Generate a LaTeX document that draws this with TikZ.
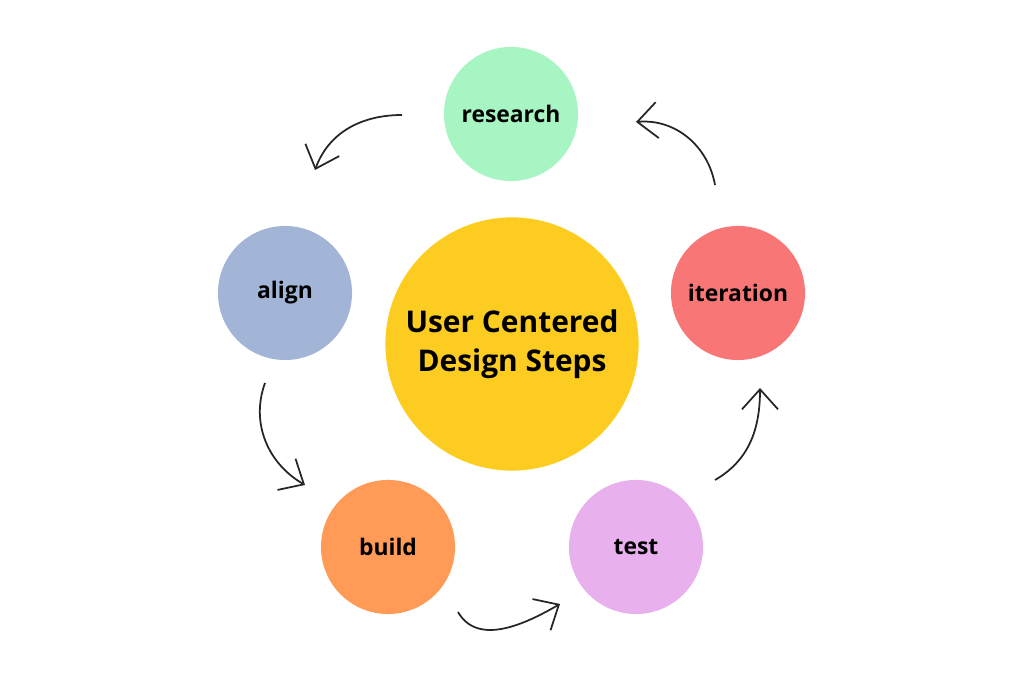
\documentclass[tikz,border=0pt]{standalone}
\usepackage{fontspec}
\setmainfont{Open Sans}
\usetikzlibrary{arrows.meta}
\definecolor{cResearch}{HTML}{A6F5C2}
\definecolor{cAlign}{HTML}{A3B5D6}
\definecolor{cIter}{HTML}{F87676}
\definecolor{cBuild}{HTML}{FF9B57}
\definecolor{cTest}{HTML}{E8B1EE}
\definecolor{cCenter}{HTML}{FCCD20}
\tikzset{
  phase/.style={circle, minimum size=1.34cm, inner sep=0pt,
    font=\fontsize{6.5}{8}\selectfont\bfseries},
  loop arrow/.style={-{Straight Barb[length=2mm,width=3.6mm]}, line width=0.5pt, black!85}
}
\begin{document}
\begin{tikzpicture}[x=0.01cm,y=-0.01cm]
        \useasboundingbox (0,0) rectangle (1024,683);
        \node [circle, fill=cCenter, minimum size=2.48cm, align=center,
          font=\fontsize{8.5}{11}\selectfont\bfseries] (centre) at (512,344)
          {User Centered\\Design Steps};

        \node [phase, fill=cResearch] (research) at (511,114) {research};
        \node [phase, fill=cAlign] (align) at (285,293) {align};
        \node [phase, fill=cIter] (iteration) at (738,293) {iteration};
        \node [phase, fill=cBuild] (build) at (388,547) {build};
        \node [phase, fill=cTest] (test) at (636,547) {test};

        % free ends of the hand drawn arrows
        \coordinate (ra) at (402,115);  \coordinate (rb) at (315,170);
        \coordinate (aa) at (265,383);  \coordinate (ab) at (305,485);
        \coordinate (ba) at (458,612);  \coordinate (bb) at (560,604);
        \coordinate (ta) at (715,480);  \coordinate (tb) at (760,388);
        \coordinate (ia) at (715,185);  \coordinate (ib) at (636,122);

        \draw [loop arrow] (ra) to[out=180, in=70] (rb);
        \draw [loop arrow] (aa) to[out=-110, in=150] (ab);
        \draw [loop arrow] (ba) to[out=-60, in=-150] (bb);
        \draw [loop arrow] (ta) to[out=30, in=-90] (tb);
        \draw [loop arrow] (ia) to[out=100, in=5] (ib);
    \end{tikzpicture}
\end{document}
